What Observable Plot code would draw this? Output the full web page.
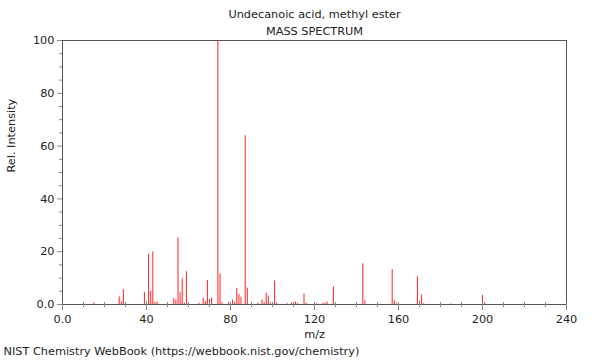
<!DOCTYPE html>
<html>
<head>
<meta charset="utf-8">
<script src="https://cdn.jsdelivr.net/npm/d3@7"></script>
<script src="https://cdn.jsdelivr.net/npm/@observablehq/plot@0.6"></script>
<style>
  body { margin: 0; background: #fff; }
  svg { display: block; }
</style>
</head>
<body>
<div id="chart"></div>
<script>
const title = "Undecanoic acid, methyl ester";
const subtitle = "MASS SPECTRUM";
const caption = "NIST Chemistry WebBook (https://webbook.nist.gov/chemistry)";
const xLabel = "m/z";
const yLabel = "Rel. Intensity";

const mz = [15, 27, 28, 29, 39, 40, 41, 42, 43, 44, 45, 53, 54, 55, 56, 57, 58, 59,
  65, 67, 68, 69, 70, 71, 74, 75, 76, 79, 81, 82, 83, 84, 85, 87, 88,
  93, 95, 96, 97, 98, 99, 101, 102, 107, 109, 111, 112, 115, 116,
  121, 124, 125, 126, 129, 130, 140, 143, 144, 150, 157, 158, 159,
  169, 170, 171, 172, 185, 200, 201];
const intensity = [0.6, 2.9, 1.0, 5.6, 4.5, 1.0, 18.9, 5.0, 19.9, 0.8, 1.0, 2.2, 1.7, 25.2, 4.6, 9.7, 0.5, 12.4,
  0.4, 2.3, 1.1, 9.1, 1.8, 2.4, 100, 11.6, 0.6, 0.8, 1.7, 0.8, 6.1, 3.8, 2.7, 63.9, 6.2,
  0.4, 1.7, 0.7, 4.3, 3.2, 0.6, 8.9, 0.5, 0.3, 0.5, 1.0, 0.4, 3.9, 0.5,
  0.3, 0.4, 0.5, 0.9, 6.7, 0.5, 0.3, 15.4, 1.4, 0.3, 13.2, 1.4, 0.3,
  10.5, 1.2, 3.6, 0.3, 0.2, 3.4, 0.6];

const xMajorTicks = [0, 40, 80, 120, 160, 200, 240];
const xMinorTicks = [10, 20, 30, 50, 60, 70, 90, 100, 110, 130, 140, 150, 170, 180, 190, 210, 220, 230];
const yMajorTicks = [0, 20, 40, 60, 80, 100];
const yMinorTicks = [5, 10, 15, 25, 30, 35, 45, 50, 55, 65, 70, 75, 85, 90, 95];

const peaks = mz.map((m, i) => ({mz: m, intensity: intensity[i]}));
const fmt = d => d === 0 ? "0.0" : String(d);

const chart = Plot.plot({
  width: 600,
  height: 360,
  marginLeft: 62,
  marginRight: 34,
  marginTop: 40,
  marginBottom: 56,
  style: {fontFamily: "DejaVu Sans, sans-serif", fontSize: "11.3px", color: "#222", background: "#fff"},
  x: {domain: [0, 240]},
  y: {domain: [0, 100]},
  marks: [
    Plot.ruleX(peaks, {x: "mz", y: "intensity", stroke: "#ff2020", strokeWidth: 1}),
    Plot.frame({stroke: "#555"}),
    Plot.axisX({ticks: xMinorTicks, tickFormat: () => "", tickSize: 3, stroke: "#888", label: null}),
    Plot.axisX({ticks: xMinorTicks, tickFormat: () => "", tickSize: -2, stroke: "#888", label: null}),
    Plot.axisX({ticks: xMajorTicks, tickFormat: fmt, tickSize: 6, tickPadding: 4, stroke: "#888", fill: "#222", label: null}),
    Plot.axisX({ticks: xMajorTicks, tickFormat: () => "", tickSize: -2, stroke: "#888", label: null}),
    Plot.axisY({ticks: yMinorTicks, tickFormat: () => "", tickSize: 3, stroke: "#888", label: null}),
    Plot.axisY({ticks: yMajorTicks, tickFormat: fmt, tickSize: 5, tickPadding: 3, stroke: "#888", fill: "#222", label: null}),
    Plot.text([title], {frameAnchor: "top", dy: -31, text: d => d, fill: "#222"}),
    Plot.text([subtitle], {frameAnchor: "top", dy: -14, text: d => d, fill: "#222"}),
    Plot.text([xLabel], {frameAnchor: "bottom", dy: 33, text: d => d, fill: "#222"}),
    Plot.text([yLabel], {frameAnchor: "left", dx: -51, rotate: -90, text: d => d, fill: "#222"}),
    Plot.text([caption], {frameAnchor: "bottom-left", dx: -59, dy: 50, textAnchor: "start", text: d => d, fill: "#222"})
  ]
});
document.getElementById("chart").appendChild(chart);
</script>
</body>
</html>
